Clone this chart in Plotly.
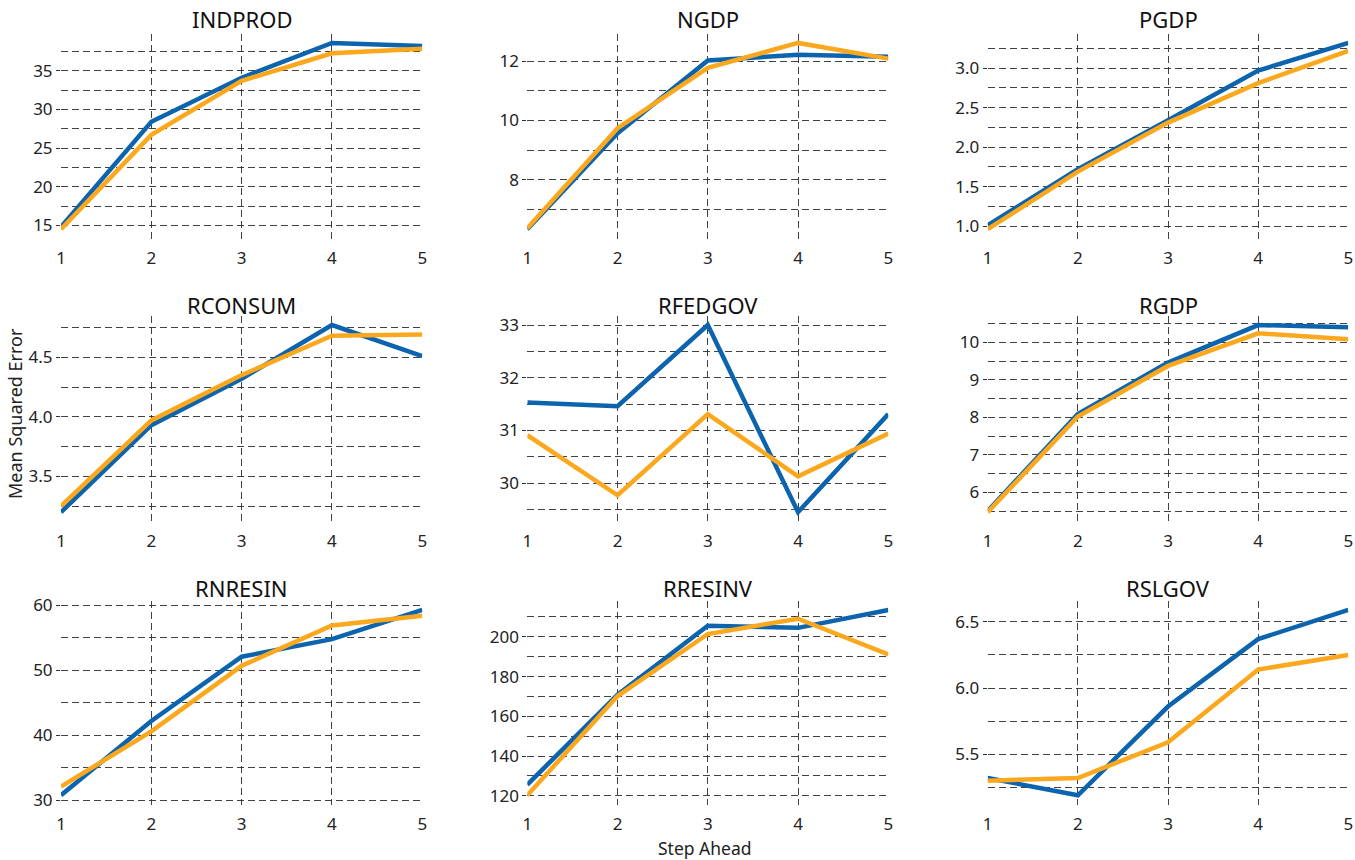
import plotly.graph_objects as go

steps = [1, 2, 3, 4, 5]
names = ["INDPROD", "NGDP", "PGDP", "RCONSUM", "RFEDGOV", "RGDP", "RNRESIN", "RRESINV", "RSLGOV"]

indprod_a = [14.8, 28.4, 34.1, 38.6, 38.2]
indprod_b = [14.5, 26.7, 33.7, 37.25, 37.85]
ngdp_a = [6.33, 9.57, 12.03, 12.22, 12.15]
ngdp_b = [6.36, 9.74, 11.78, 12.62, 12.09]
pgdp_a = [1.01, 1.72, 2.34, 2.97, 3.32]
pgdp_b = [0.96, 1.69, 2.31, 2.81, 3.22]
rconsum_a = [3.20, 3.93, 4.32, 4.77, 4.51]
rconsum_b = [3.25, 3.97, 4.35, 4.68, 4.69]
rfedgov_a = [31.53, 31.46, 33.0, 29.45, 31.31]
rfedgov_b = [30.91, 29.77, 31.31, 30.13, 30.94]
rgdp_a = [5.50, 8.09, 9.46, 10.46, 10.40]
rgdp_b = [5.47, 8.02, 9.37, 10.24, 10.08]
rnresin_a = [30.77, 42.2, 52.1, 54.8, 59.3]
rnresin_b = [32.1, 40.6, 50.7, 56.9, 58.4]
rresinv_a = [125.6, 170.9, 205.6, 204.5, 213.5]
rresinv_b = [120.3, 170.2, 201.4, 209.1, 191.1]
rslgov_a = [5.32, 5.19, 5.86, 6.37, 6.59]
rslgov_b = [5.30, 5.32, 5.59, 6.14, 6.25]

series_a = [indprod_a, ngdp_a, pgdp_a, rconsum_a, rfedgov_a, rgdp_a, rnresin_a, rresinv_a, rslgov_a]
series_b = [indprod_b, ngdp_b, pgdp_b, rconsum_b, rfedgov_b, rgdp_b, rnresin_b, rresinv_b, rslgov_b]
major_steps = [5, 2, 0.5, 0.5, 1, 1, 10, 20, 0.5]
minor_steps = [2.5, 1, 0.25, 0.25, 0.5, 0.5, 5, 10, 0.25]
tick_formats = ["d", "d", ".1f", ".1f", "d", "d", "d", "d", ".1f"]

W, H = 1355, 860
col_px = [(61, 422.3), (527.3, 888.3), (987.7, 1348.3)]
row_px = [(33.6, 238.5), (315.7, 521.5), (600.7, 804.5)]
title_center_px = [19, 305, 588]

BLUE = "#0b64ad"
ORANGE = "#fba81e"
GRID = "rgba(45,45,45,0.9)"
DASH = "7px,4px"
FONT = "Noto Sans"

fig = go.Figure()
layout = dict(
    width=W, height=H,
    margin=dict(l=0, r=0, t=0, b=0, autoexpand=False),
    paper_bgcolor="white", plot_bgcolor="white",
    showlegend=False,
    font=dict(family=FONT, size=15, color="#222"),
)
annotations = []

for i, name in enumerate(names):
    r, c = divmod(i, 3)
    k = "" if i == 0 else str(i + 1)
    xa, ya = "x" + k, "y" + k
    a, b = series_a[i], series_b[i]
    lo = min(min(a), min(b))
    hi = max(max(a), max(b))
    pad = 0.05 * (hi - lo)
    fig.add_trace(go.Scatter(x=steps, y=a, mode="lines", line=dict(color=BLUE, width=4.5),
                             xaxis=xa, yaxis=ya, cliponaxis=False))
    fig.add_trace(go.Scatter(x=steps, y=b, mode="lines", line=dict(color=ORANGE, width=4.5),
                             xaxis=xa, yaxis=ya, cliponaxis=False))
    x0, x1 = col_px[c]
    y0, y1 = row_px[r]
    layout["xaxis" + k] = dict(
        domain=[x0 / W, x1 / W], anchor=ya, range=[1, 5], automargin=False,
        tickmode="linear", tick0=1, dtick=1,
        showgrid=True, gridcolor=GRID, griddash=DASH, gridwidth=1,
        zeroline=False, showline=False, ticks="outside", ticklen=4, tickcolor="white",
        tickfont=dict(size=17, family=FONT, color="#222"),
    )
    m = major_steps[i]
    layout["yaxis" + k] = dict(
        domain=[1 - y1 / H, 1 - y0 / H], anchor=xa, range=[lo - pad, hi + pad], automargin=False,
        tickmode="linear", tick0=0, dtick=m, tickformat=tick_formats[i],
        showgrid=True, gridcolor=GRID, griddash=DASH, gridwidth=1,
        zeroline=False, showline=False, ticks="outside", ticklen=4, tickcolor="#333",
        tickfont=dict(size=17, family=FONT, color="#222"),
        minor=dict(tick0=0, dtick=minor_steps[i], showgrid=True, gridcolor=GRID,
                   griddash=DASH, gridwidth=1, ticks=""),
    )
    annotations.append(dict(
        text=name, x=(x0 + x1) / 2 / W, y=1 - title_center_px[r] / H, xref="paper", yref="paper",
        xanchor="center", yanchor="middle", showarrow=False,
        font=dict(size=22, family=FONT, color="#111"),
    ))

annotations.append(dict(text="Step Ahead", x=705 / W, y=1 - 848 / H, xref="paper", yref="paper",
                        xanchor="center", yanchor="middle", showarrow=False,
                        font=dict(size=17.5, family=FONT, color="#222")))
annotations.append(dict(text="Mean Squared Error", x=15 / W, y=1 - 414 / H, xref="paper", yref="paper",
                        xanchor="center", yanchor="middle", textangle=-90, showarrow=False,
                        font=dict(size=18, family=FONT, color="#222")))
layout["annotations"] = annotations
fig.update_layout(**layout)
fig.write_html("out.html", config={"displayModeBar": False},
               post_script="document.body.style.margin='0';document.body.style.overflow='hidden';")
